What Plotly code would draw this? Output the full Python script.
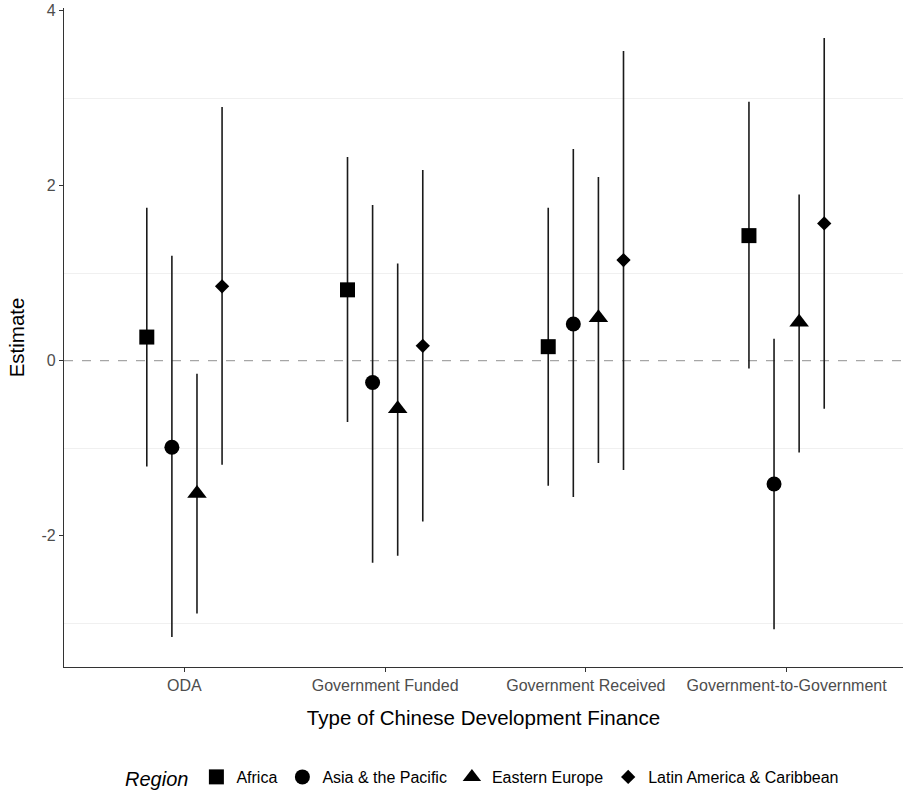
import plotly.graph_objects as go

categories = ["ODA", "Government Funded", "Government Received", "Government-to-Government"]
regions = ["Africa", "Asia & the Pacific", "Eastern Europe", "Latin America & Caribbean"]

# estimates per region, in category order
africa_est = [0.27, 0.81, 0.16, 1.43]
africa_lo = [-1.21, -0.70, -1.43, -0.09]
africa_hi = [1.75, 2.33, 1.75, 2.96]

asia_est = [-0.99, -0.25, 0.42, -1.41]
asia_lo = [-3.16, -2.31, -1.56, -3.07]
asia_hi = [1.20, 1.78, 2.42, 0.25]

ee_est = [-1.52, -0.55, 0.49, 0.44]
ee_lo = [-2.89, -2.23, -1.17, -1.05]
ee_hi = [-0.15, 1.11, 2.10, 1.90]

latam_est = [0.85, 0.17, 1.15, 1.57]
latam_lo = [-1.19, -1.84, -1.25, -0.55]
latam_hi = [2.90, 2.18, 3.54, 3.69]

series = [
    (regions[0], africa_est, africa_lo, africa_hi, "square", 15, -0.1875),
    (regions[1], asia_est, asia_lo, asia_hi, "circle", 15, -0.0625),
    (regions[2], ee_est, ee_lo, ee_hi, "triangle-up", 17, 0.0625),
    (regions[3], latam_est, latam_lo, latam_hi, "diamond", 11, 0.1875),
]

FONT = "Liberation Sans, Arial, Helvetica, sans-serif"

fig = go.Figure()
for name, est, lo, hi, sym, sz, off in series:
    xs = [i + 1 + off for i in range(len(categories))]
    fig.add_trace(go.Scatter(
        x=xs, y=est, mode="markers", name=name,
        marker=dict(symbol=sym, size=sz, color="black", line=dict(width=0)),
        error_y=dict(type="data", symmetric=False,
                     array=[h - e for h, e in zip(hi, est)],
                     arrayminus=[e - l for e, l in zip(est, lo)],
                     width=0, thickness=1.6, color="#1a1a1a"),
    ))

fig.add_hline(y=0, line=dict(color="#a6a6a6", width=1.3, dash="dash"), layer="below")

fig.update_layout(
    width=903, height=793,
    margin=dict(l=64, r=0, t=8, b=126, autoexpand=False),
    paper_bgcolor="white", plot_bgcolor="white",
    font=dict(family=FONT, color="black"),
    showlegend=True,
    legend=dict(orientation="h", x=0.5, xanchor="center", y=-0.1684, yanchor="middle",
                title=dict(text="<i>Region</i>", font=dict(size=20, color="black"), side="left"),
                font=dict(size=16, color="black"), itemwidth=30, tracegroupgap=0),
    xaxis=dict(
        range=[0.40, 4.58], tickmode="array", tickvals=[1, 2, 3, 4], ticktext=categories,
        showgrid=False, zeroline=False, automargin=False,
        showline=True, linecolor="#333333", linewidth=1.2,
        ticks="outside", ticklen=4, tickcolor="#333333", tickwidth=1,
        tickfont=dict(size=16, color="#4d4d4d"),
        title=dict(text="Type of Chinese Development Finance", font=dict(size=20.5, color="black"), standoff=17),
    ),
    yaxis=dict(
        range=[-3.503, 4.033], tickmode="array", tickvals=[-2, 0, 2, 4], ticktext=["-2", "0", "2", "4"],
        showgrid=False, zeroline=False, automargin=False, ticklabeloverflow="allow",
        showline=True, linecolor="#333333", linewidth=1.2,
        ticks="outside", ticklen=4, tickcolor="#333333", tickwidth=1,
        tickfont=dict(size=16, color="#4d4d4d"),
        minor=dict(tickvals=[-3, -1, 1, 3], showgrid=True, gridcolor="#f0f0f0", gridwidth=1, ticks=""),
        title=dict(text="Estimate", font=dict(size=20.5, color="black"), standoff=11),
    ),
)

fig.write_html("out.html", config={"displayModeBar": False},
               post_script="document.body.style.margin='0';")
